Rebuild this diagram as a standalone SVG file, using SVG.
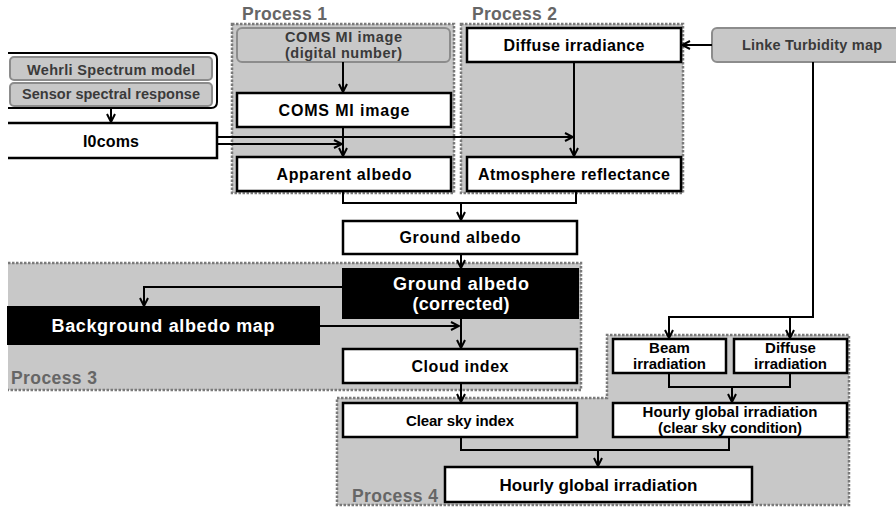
<svg xmlns="http://www.w3.org/2000/svg" width="896" height="507" viewBox="0 0 896 507">
<defs>
<style>
.box{fill:#fff;stroke:#000;stroke-width:2.5}
.blk{fill:#000;stroke:#000;stroke-width:2}
.gbox{fill:#c8c8c8;stroke:#8c8c8c;stroke-width:2}
.pfill{fill:#c8c8c8;stroke:none}
.pline{fill:none;stroke:#7a7a7a;stroke-width:2.5;stroke-dasharray:2.5 1.5}
.t{font-family:"Liberation Sans",Arial,sans-serif;font-weight:bold;font-size:16px;text-anchor:middle;fill:#000}
.s{font-size:15px}
.tw{fill:#fff;font-size:18px}
.tg{fill:#3a3a3a;font-size:14.5px}
.pl{font-family:"Liberation Sans",Arial,sans-serif;font-weight:bold;font-size:17.5px;fill:#666}
.c{fill:none;stroke:#000;stroke-width:2}
</style>
<marker id="ah" viewBox="0 0 10 10" refX="9" refY="5" markerWidth="10" markerHeight="10" markerUnits="userSpaceOnUse" orient="auto">
<path d="M1,1 L9,5 L1,9" fill="none" stroke="#000" stroke-width="2"/>
</marker>
</defs>
<rect width="896" height="507" fill="#fff"/>

<g id="process1">
<rect class="pfill" x="232" y="24" width="222" height="169"/>
<rect class="pline" x="232" y="24" width="222" height="169"/>
<text class="pl" x="242" y="20" textLength="85">Process 1</text>
</g>
<g id="process2">
<rect class="pfill" x="461" y="24" width="222" height="169"/>
<rect class="pline" x="461" y="24" width="222" height="169"/>
<text class="pl" x="472" y="20" textLength="85">Process 2</text>
</g>
<g id="process3">
<rect class="pfill" x="8" y="263" width="573" height="127"/>
<path class="pline" d="M8,263 H581 V390 H8"/>
<text class="pl" x="11" y="384" textLength="86">Process 3</text>
</g>
<g id="process4">
<path class="pfill" d="M337,398 H607 V335 H849 V505 H337 Z"/>
<path class="pline" d="M337,398 H607 V335 H849 V505 H337 Z"/>
<text class="pl" x="352" y="502" textLength="86">Process 4</text>
</g>

<g id="spectrum-group">
<path d="M8,53 H211 Q217,53 217,59 V102 Q217,108 211,108 H8" fill="#fff" stroke="#000" stroke-width="2"/>
</g>
<g id="wehrli">
<rect class="gbox" x="10" y="57" width="202" height="23" rx="4"/>
<text class="t tg" x="111" y="75" textLength="168">Wehrli Spectrum model</text>
</g>
<g id="sensor">
<rect class="gbox" x="10" y="83" width="202" height="23" rx="4"/>
<text class="t tg" x="111" y="99" textLength="178">Sensor spectral response</text>
</g>
<g id="i0coms">
<path d="M8,123 H217 V158 H8" fill="#fff" stroke="#000" stroke-width="2.5"/>
<text class="t" x="111" y="147" textLength="56">I0coms</text>
</g>

<g id="coms-dn">
<rect class="gbox" x="237" y="28" width="213" height="34" rx="5"/>
<text class="t tg" x="343.5" y="42" textLength="117">COMS MI image</text>
<text class="t tg" x="343.5" y="58" textLength="117">(digital number)</text>
</g>
<g id="coms">
<rect class="box" x="237" y="93" width="214" height="34"/>
<text class="t" x="344" y="116" textLength="131">COMS MI image</text>
</g>
<g id="apparent">
<rect class="box" x="237" y="157" width="214" height="34"/>
<text class="t" x="344" y="180" textLength="135">Apparent albedo</text>
</g>
<g id="diffuse">
<rect class="box" x="467" y="28" width="214" height="34"/>
<text class="t" x="574" y="51" textLength="141">Diffuse irradiance</text>
</g>
<g id="atmos">
<rect class="box" x="467" y="157" width="214" height="34"/>
<text class="t" x="574" y="180" textLength="192">Atmosphere reflectance</text>
</g>
<g id="linke">
<rect class="gbox" x="712" y="28" width="200" height="34" rx="5"/>
<text class="t tg" x="812" y="50" textLength="140">Linke Turbidity map</text>
</g>

<g id="ground">
<rect class="box" x="343" y="221" width="234" height="33"/>
<text class="t" x="460" y="243" textLength="121">Ground albedo</text>
</g>
<g id="ground-corr">
<rect class="blk" x="343" y="269" width="235" height="49"/>
<text class="t tw" x="461" y="290" textLength="136">Ground albedo</text>
<text class="t tw" x="461" y="310" textLength="97">(corrected)</text>
</g>
<g id="background">
<rect class="blk" x="8" y="307" width="311" height="37"/>
<text class="t tw" x="163" y="332" textLength="223">Background albedo map</text>
</g>
<g id="cloud">
<rect class="box" x="343" y="349" width="234" height="34"/>
<text class="t" x="460" y="372" textLength="97">Cloud index</text>
</g>

<g id="clearsky">
<rect class="box" x="343" y="403" width="234" height="34"/>
<text class="t s" x="460" y="426" textLength="108">Clear sky index</text>
</g>
<g id="beam">
<rect class="box" x="613" y="339" width="113" height="34"/>
<text class="t s" x="669.5" y="353">Beam</text>
<text class="t s" x="669.5" y="369" textLength="73">irradiation</text>
</g>
<g id="diffuse-irr">
<rect class="box" x="734" y="339" width="113" height="34"/>
<text class="t s" x="790.5" y="353">Diffuse</text>
<text class="t s" x="790.5" y="369" textLength="73">irradiation</text>
</g>
<g id="hourly-clear">
<rect class="box" x="613" y="403" width="234" height="34"/>
<text class="t s" x="730" y="417" textLength="175">Hourly global irradiation</text>
<text class="t s" x="730" y="433" textLength="144">(clear sky condition)</text>
</g>
<g id="hourly">
<rect class="box" x="445" y="467" width="307" height="35"/>
<text class="t" x="598.5" y="491" style="font-size:17px" textLength="198">Hourly global irradiation</text>
</g>

<g id="connectors">
<path class="c" d="M111,108 V122" marker-end="url(#ah)"/>
<path class="c" d="M217,137 H573" marker-end="url(#ah)"/>
<path class="c" d="M217,144 H342" marker-end="url(#ah)"/>
<path class="c" d="M343,62 V92" marker-end="url(#ah)"/>
<path class="c" d="M343,127 V156" marker-end="url(#ah)"/>
<path class="c" d="M574,62 V156" marker-end="url(#ah)"/>
<path class="c" d="M712,45 H682" marker-end="url(#ah)"/>
<path class="c" d="M343,191 V203 H576 V191"/>
<path class="c" d="M461,203 V220" marker-end="url(#ah)"/>
<path class="c" d="M461,254 V268" marker-end="url(#ah)"/>
<path class="c" d="M343,287 H144 V306" marker-end="url(#ah)"/>
<path class="c" d="M319,326 H459" marker-end="url(#ah)"/>
<path class="c" d="M461,318 V348" marker-end="url(#ah)"/>
<path class="c" d="M461,383 V402" marker-end="url(#ah)"/>
<path class="c" d="M813,62 V317 H669 V338" marker-end="url(#ah)"/>
<path class="c" d="M790,317 V338" marker-end="url(#ah)"/>
<path class="c" d="M669,373 V387 H790 V373"/>
<path class="c" d="M732,387 V402" marker-end="url(#ah)"/>
<path class="c" d="M461,437 V450 H729 V437"/>
<path class="c" d="M598,450 V466" marker-end="url(#ah)"/>
</g>
</svg>
